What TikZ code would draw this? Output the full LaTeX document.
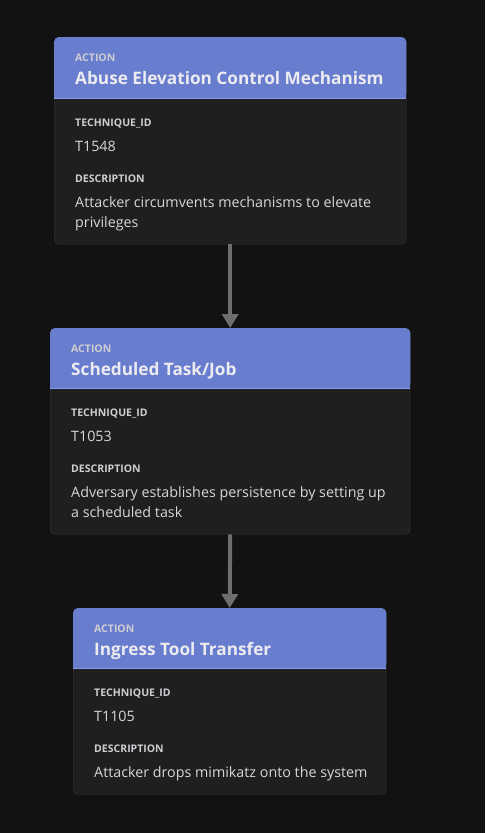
\documentclass[tikz,border=0pt]{standalone}
\usepackage{fontspec}
\setmainfont{Open Sans}
\usetikzlibrary{arrows.meta}
\definecolor{bgdark}{RGB}{18,18,18}
\definecolor{cardfill}{RGB}{31,31,31}
\definecolor{cardline}{RGB}{58,58,58}
\definecolor{headfill}{RGB}{105,125,206}
\definecolor{headline}{RGB}{135,155,240}
\definecolor{labelgray}{RGB}{205,205,210}
\definecolor{titlewhite}{RGB}{235,235,240}
\definecolor{textgray}{RGB}{215,215,218}
\definecolor{arrowgray}{RGB}{110,110,110}
\begin{document}
\begin{tikzpicture}[x=1pt, y=-1pt,
    card/.style = {draw=cardline, fill=cardfill, rounded corners=5pt,
      anchor=north west, inner sep=0pt},
    tag/.style = {anchor=base west, inner sep=0pt, text=labelgray,
      font=\fontsize{10.5}{12}\selectfont\bfseries},
    title/.style = {anchor=base west, inner sep=0pt, text=titlewhite,
      font=\fontsize{17.2}{20}\selectfont\bfseries},
    value/.style = {anchor=base west, inner sep=0pt, text=textgray,
      font=\fontsize{14.3}{20}\selectfont},
    flow/.style = {draw=arrowgray, line width=4pt,
      -{Triangle[width=16pt,length=14pt]}}]
  \fill[bgdark] (0,0) rectangle (485,833);
  \useasboundingbox (0,0) rectangle (485,833);

  % first action
  \node[card, minimum width=352, minimum height=207] (card1) at (54,37) {};
  \fill[headfill, rounded corners=5pt] (card1.north west) rectangle ([yshift=-61pt]card1.north east);
  \fill[headfill] ([yshift=-30pt]card1.north west) rectangle ([yshift=-61pt]card1.north east);
  \draw[headline] ([yshift=-61pt]card1.north west) -- ([yshift=-61pt]card1.north east);
  \node[tag] (act1) at (75,61) {ACTION};
  \node[title] (name1) at (75,84) {Abuse Elevation Control Mechanism};
  \node[tag] (tid1) at (75,126) {TECHNIQUE\_ID};
  \node[value] (id1) at (75,151) {T1548};
  \node[tag] (dsc1) at (75,182) {DESCRIPTION};
  \node[value] (txt1a) at (75,207) {Attacker circumvents mechanisms to elevate};
  \node[value] (txt1b) at (75,227) {privileges};

  % second action
  \node[card, minimum width=360, minimum height=206] (card2) at (50,328) {};
  \fill[headfill, rounded corners=5pt] (card2.north west) rectangle ([yshift=-60pt]card2.north east);
  \fill[headfill] ([yshift=-30pt]card2.north west) rectangle ([yshift=-60pt]card2.north east);
  \draw[headline] ([yshift=-60pt]card2.north west) -- ([yshift=-60pt]card2.north east);
  \node[tag] (act2) at (71,352) {ACTION};
  \node[title] (name2) at (71,375) {Scheduled Task/Job};
  \node[tag] (tid2) at (71,416) {TECHNIQUE\_ID};
  \node[value] (id2) at (71,441) {T1053};
  \node[tag] (dsc2) at (71,472) {DESCRIPTION};
  \node[value] (txt2a) at (71,497) {Adversary establishes persistence by setting up};
  \node[value] (txt2b) at (71,517) {a scheduled task};

  % third action
  \node[card, minimum width=313, minimum height=186] (card3) at (73,608) {};
  \fill[headfill, rounded corners=5pt] (card3.north west) rectangle ([yshift=-60pt]card3.north east);
  \fill[headfill] ([yshift=-30pt]card3.north west) rectangle ([yshift=-60pt]card3.north east);
  \draw[headline] ([yshift=-60pt]card3.north west) -- ([yshift=-60pt]card3.north east);
  \node[tag] (act3) at (94,632) {ACTION};
  \node[title] (name3) at (94,655) {Ingress Tool Transfer};
  \node[tag] (tid3) at (94,696) {TECHNIQUE\_ID};
  \node[value] (id3) at (94,721) {T1105};
  \node[tag] (dsc3) at (94,752) {DESCRIPTION};
  \node[value] (txt3a) at (94,777) {Attacker drops mimikatz onto the system};

  % links
  \draw[flow] (card1.south) -- (card2.north);
  \draw[flow] (card2.south) -- (card3.north);
\end{tikzpicture}
\end{document}
